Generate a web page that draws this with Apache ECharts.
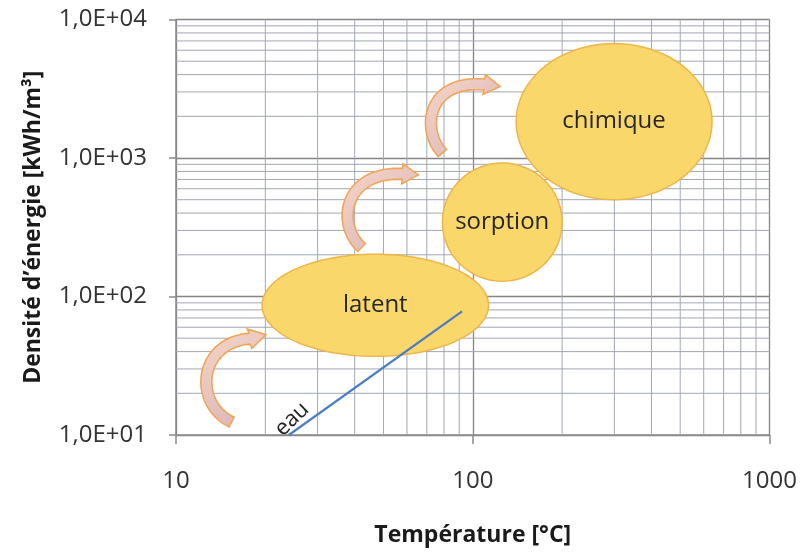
<!DOCTYPE html>
<html>
<head>
<meta charset="utf-8">
<script src="https://cdn.jsdelivr.net/npm/echarts@6/dist/echarts.min.js"></script>
<style>
html,body{margin:0;padding:0;background:#fff;}
#chart{width:800px;height:552px;}
</style>
</head>
<body>
<div id="chart"></div>
<script>
// ---- data ----
var xTicks = [10, 100, 1000];
var yTicks = [10, 100, 1000, 10000];
var xMinorGrid = [20,30,40,50,60,70,80,90,200,300,400,500,600,700,800,900];
var yMinorGrid = [20,30,40,50,60,70,80,90,200,300,400,500,600,700,800,900,2000,3000,4000,5000,6000,7000,8000,9000];
// ellipses: [Tmin, Tmax, Emin, Emax, label]
var zoneLatent   = [19.5, 113, 37, 202, 'latent'];
var zoneSorption = [79, 200, 129, 920, 'sorption'];
var zoneChimique = [140, 640, 500, 6700, 'chimique'];
// water line
var eauT = [24, 92];
var eauE = [10, 78];
var eauLabel = [24.6, 13.0, 'eau'];
// curved arrows: tail, ctrl1, ctrl2, head base, tip  (T,E pairs)
var arrow1 = [15.4,12.4, 11.4,16.9, 11.9,46.5, 17.7,49.6, 20.1,53.0];
var arrow2 = [42.2,226, 34.6,331, 36.6,800, 57.9,768, 65.6,755];
var arrow3 = [79.0,1086, 67.0,1588, 69.8,3680, 109.3,3393, 123.7,3282];

var chart = echarts.init(document.getElementById('chart'), null, {renderer:'canvas'});
var FONT = '"Open Sans", "Liberation Sans", sans-serif';

function ellipseItem(api){
  var p1 = api.coord([api.value(0), api.value(2)]);
  var p2 = api.coord([api.value(1), api.value(3)]);
  var cx = (p1[0]+p2[0])/2, cy = (p1[1]+p2[1])/2;
  var rx = Math.abs(p2[0]-p1[0])/2, ry = Math.abs(p2[1]-p1[1])/2;
  var pts = [];
  for (var i=0;i<120;i++){
    var a = i/120*Math.PI*2;
    pts.push([cx+rx*Math.cos(a), cy+ry*Math.sin(a)]);
  }
  return {type:'group', children:[
    {type:'polygon', shape:{points:pts}, style:{fill:'#FAD76A', stroke:'#EDB54A', lineWidth:1.5}},
    {type:'text', x:cx, y:cy, style:{text:api.value(4), fill:'#262626', font:'24px '+FONT, align:'center', verticalAlign:'middle'}}
  ]};
}

function arrowItem(api){
  var P = [];
  for (var i=0;i<5;i++) P.push(api.coord([api.value(2*i), api.value(2*i+1)]));
  var N = 40, c = [];
  for (var k=0;k<=N;k++){
    var t=k/N, u=1-t;
    var a=u*u*u, b=3*u*u*t, d=3*u*t*t, e=t*t*t;
    c.push([a*P[0][0]+b*P[1][0]+d*P[2][0]+e*P[3][0], a*P[0][1]+b*P[1][1]+d*P[2][1]+e*P[3][1]]);
  }
  var w = 5.5, L = [], R = [];
  for (var k=0;k<=N;k++){
    var q0 = c[Math.max(0,k-1)], q1 = c[Math.min(N,k+1)];
    var dx=q1[0]-q0[0], dy=q1[1]-q0[1], len=Math.sqrt(dx*dx+dy*dy)||1;
    var nx=-dy/len, ny=dx/len;
    L.push([c[k][0]+nx*w, c[k][1]+ny*w]);
    R.push([c[k][0]-nx*w, c[k][1]-ny*w]);
  }
  var hx=P[4][0]-P[3][0], hy=P[4][1]-P[3][1], hl=Math.sqrt(hx*hx+hy*hy)||1;
  var hnx=-hy/hl, hny=hx/hl, hw=10;
  var pts = L.slice();
  pts.push([P[3][0]+hnx*hw, P[3][1]+hny*hw]);
  pts.push(P[4]);
  pts.push([P[3][0]-hnx*hw, P[3][1]-hny*hw]);
  pts = pts.concat(R.slice().reverse());
  return {type:'polygon', shape:{points:pts}, style:{
    fill:{type:'linear', x:0, y:0, x2:1, y2:1, colorStops:[{offset:0,color:'#F7D6C8'},{offset:1,color:'#D7B3B6'}]},
    stroke:'#F0A656', lineWidth:1.6}};
}

var option = {
  backgroundColor:'#ffffff',
  animation:false,
  grid:{left:176, right:29, top:19.5, bottom:115},
  xAxis:{
    type:'log', logBase:10, min:10, max:1000,
    name:'Température [°C]', nameLocation:'middle', nameGap:89,
    nameTextStyle:{fontFamily:FONT, fontWeight:'bold', fontSize:23, color:'#1a1a1a'},
    axisLine:{show:true, lineStyle:{color:'#8a8a8a', width:1.5}},
    axisTick:{show:true, length:9, lineStyle:{color:'#8a8a8a', width:1.5}},
    axisLabel:{fontFamily:FONT, fontSize:24, color:'#333', margin:34, formatter:function(v){return String(Math.round(v));}},
    splitLine:{show:true, lineStyle:{color:'#858585', width:1.3}}
  },
  yAxis:{
    type:'log', logBase:10, min:10, max:10000,
    name:'Densité d\u2019énergie [kWh/m³]', nameLocation:'middle', nameGap:131, nameRotate:90,
    nameTextStyle:{fontFamily:FONT, fontWeight:'bold', fontSize:23, color:'#1a1a1a'},
    axisLine:{show:true, lineStyle:{color:'#8a8a8a', width:1.5}},
    axisTick:{show:true, length:7, lineStyle:{color:'#8a8a8a', width:1.5}},
    axisLabel:{fontFamily:FONT, fontSize:24, color:'#333', margin:29, formatter:function(v){
      var e = Math.round(Math.log10(v)); return '1,0E+' + (e<10?'0':'') + e;}},
    splitLine:{show:true, lineStyle:{color:'#858585', width:1.3}}
  },
  series:[
    {type:'custom', z:1, silent:true, encode:{x:0,y:1},
     data: xMinorGrid.map(function(v){return [v, 10];}),
     renderItem:function(p, api){
       var a = api.coord([api.value(0), 10]), b = api.coord([api.value(0), 10000]);
       return {type:'line', shape:{x1:a[0],y1:a[1],x2:b[0],y2:b[1]}, style:{stroke:'#A2A7B3', lineWidth:1}};
     }},
    {type:'custom', z:1, silent:true, encode:{x:0,y:1},
     data: yMinorGrid.map(function(v){return [10, v];}),
     renderItem:function(p, api){
       var a = api.coord([10, api.value(1)]), b = api.coord([1000, api.value(1)]);
       return {type:'line', shape:{x1:a[0],y1:a[1],x2:b[0],y2:b[1]}, style:{stroke:'#A2A7B3', lineWidth:1}};
     }},
    {type:'custom', z:3, silent:true, encode:{x:[0,1], y:[2,3]},
     data:[zoneLatent, zoneSorption, zoneChimique], renderItem:function(p, api){return ellipseItem(api);}},
    {type:'custom', z:4, silent:true, encode:{x:[0,2,4,6,8], y:[1,3,5,7,9]},
     data:[arrow1, arrow2, arrow3], renderItem:function(p, api){return arrowItem(api);}},
    {type:'line', z:5, silent:true, showSymbol:false, symbol:'none',
     data: eauT.map(function(t,i){return [t, eauE[i]];}),
     lineStyle:{color:'#4A7DC4', width:2.2}},
    {type:'custom', z:6, silent:true, encode:{x:0,y:1},
     data:[eauLabel], renderItem:function(p, api){
       var c = api.coord([api.value(0), api.value(1)]);
       return {type:'text', x:c[0], y:c[1], rotation:44*Math.PI/180,
         style:{text:api.value(2), fill:'#222', font:'22px '+FONT, align:'center', verticalAlign:'middle'}};
     }}
  ]
};
chart.setOption(option);
</script>
</body>
</html>
